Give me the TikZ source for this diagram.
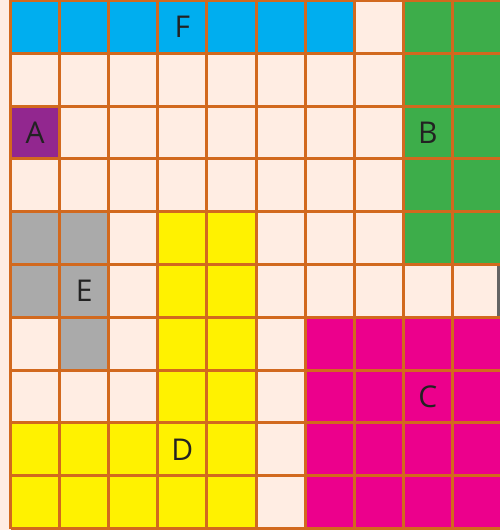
\documentclass[tikz,border=0pt]{standalone}
\usepackage{fontspec}
\setmainfont{Open Sans}
\definecolor{pinkbg}{RGB}{255,237,227}
\definecolor{cblue}{RGB}{0,174,239}
\definecolor{cgreen}{RGB}{61,173,74}
\definecolor{cmag}{RGB}{236,0,140}
\definecolor{cyel}{RGB}{255,242,0}
\definecolor{cgray}{RGB}{170,170,170}
\definecolor{cpurple}{RGB}{146,39,143}
\definecolor{gline}{RGB}{210,105,30}
\definecolor{txt}{RGB}{34,34,34}
\definecolor{strip}{RGB}{100,100,100}
\tikzset{
  gridline/.style={draw=gline,line width=3pt},
  lbl/.style={text=txt,font=\fontsize{30}{32}\selectfont,inner sep=0pt}
}
\begin{document}
\begin{tikzpicture}[x=1pt,y=1pt]
\useasboundingbox (0,0) rectangle (500,530);
\clip (0,0) rectangle (500,530);
\fill[pinkbg] (0,0) rectangle (500,530);
\fill[strip] (497,265.5) rectangle (502,212.7);
\begin{scope}[shift={(10.5,529.5)},x=49.1pt,y=-52.8pt]
  \foreach \c in {0,...,6} \fill[cblue] (\c,0) rectangle ++(1,1);
  \foreach \r in {0,...,4} {\fill[cgreen] (8,\r) rectangle ++(2,1);}
  \fill[cpurple] (0,2) rectangle ++(1,1);
  \foreach \c/\r in {0/4,1/4,0/5,1/5,1/6} \fill[cgray] (\c,\r) rectangle ++(1,1);
  \fill[cyel] (3,4) rectangle (5,10);
  \fill[cyel] (0,8) rectangle (3,10);
  \fill[cmag] (6,6) rectangle (10,10);
  \foreach \k in {0,...,10} {
    \draw[gridline] (\k,0) -- (\k,10);
    \draw[gridline] (0,\k) -- (10,\k);
  }
  \node[lbl] (F) at (3.5,0.5) {F};
  \node[lbl] (A) at (0.5,2.5) {A};
  \node[lbl] (B) at (8.5,2.5) {B};
  \node[lbl] (E) at (1.5,5.5) {E};
  \node[lbl] (C) at (8.5,7.5) {C};
  \node[lbl] (D) at (3.5,8.5) {D};
\end{scope}
\end{tikzpicture}
\end{document}
